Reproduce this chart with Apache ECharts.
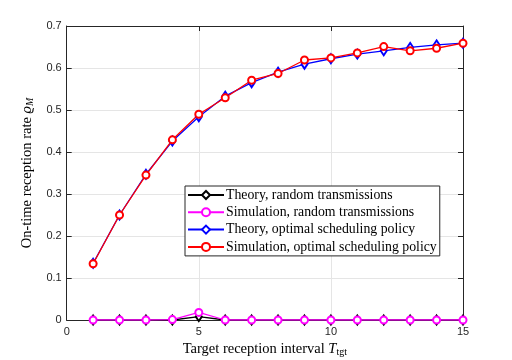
<!DOCTYPE html>
<html>
<head>
<meta charset="utf-8">
<script src="https://cdn.jsdelivr.net/npm/echarts@6/dist/echarts.min.js"></script>
<style>
  html, body { margin: 0; padding: 0; background: #fff; }
  #chart { width: 512px; height: 360px; }
</style>
</head>
<body>
<div id="chart"></div>
<script>
// target reception interval
var intervals = [1, 2, 3, 4, 5, 6, 7, 8, 9, 10, 11, 12, 13, 14, 15]
var theoryRandom = [0, 0, 0, 0, 0.008, 0, 0, 0, 0, 0, 0, 0, 0, 0, 0]
var simRandom = [0, 0, 0, 0.001, 0.018, 0, 0, 0, 0, 0, 0, 0, 0, 0, 0]
var theoryOptimal = [0.135, 0.25, 0.347, 0.426, 0.484, 0.533, 0.565, 0.59, 0.609, 0.622, 0.633, 0.641, 0.649, 0.655, 0.659]
var simOptimal = [0.134, 0.25, 0.345, 0.429, 0.49, 0.529, 0.571, 0.587, 0.619, 0.624, 0.636, 0.651, 0.641, 0.647, 0.659]
var seriesNames = [
  'Theory, random transmissions',
  'Simulation, random transmissions',
  'Theory, optimal scheduling policy',
  'Simulation, optimal scheduling policy'
]

function pairs (ys) {
  return intervals.map(function (x, i) { return [x, ys[i]] })
}

var axisColor = '#262626'
var serif = '"Liberation Serif", "DejaVu Serif", serif'
var sans = '"Liberation Sans", Arial, sans-serif'

function makeSeries (name, ys, color, symbol, size) {
  return {
    name: name,
    type: 'line',
    data: pairs(ys),
    symbol: symbol,
    symbolSize: size,
    showAllSymbol: true,
    lineStyle: { color: color, width: 1.3 },
    itemStyle: { color: color, borderColor: color, borderWidth: 1 },
    emphasis: { disabled: true },
    animation: false
  }
}

function boxAxis (extra) {
  return Object.assign({
    axisLine: { show: true, onZero: false, lineStyle: { color: axisColor, width: 1 } },
    axisTick: { show: true, inside: true, length: 5, lineStyle: { color: axisColor } },
    axisLabel: { show: false },
    splitLine: { show: false }
  }, extra)
}

var chart = echarts.init(document.getElementById('chart'))
var option = {
  backgroundColor: '#fff',
  animation: false,
  grid: { left: 66.7, right: 49, top: 26, bottom: 40, outerBoundsMode: 'none' },
  legend: {
    orient: 'vertical',
    left: 185,
    top: 186,
    data: seriesNames,
    backgroundColor: '#fff',
    borderColor: axisColor,
    borderWidth: 1,
    padding: [2, 3, 2, 2],
    itemWidth: 36,
    itemHeight: 10,
    itemGap: 3.3,
    textStyle: { fontFamily: serif, fontSize: 13.8, color: '#000', padding: [0, 0, 0, -3] }
  },
  xAxis: [
    {
      type: 'value', min: 0, max: 15, interval: 5,
      name: 'Target reception interval {it|T}{sub|tgt}',
      nameLocation: 'middle', nameGap: 18,
      nameTextStyle: {
        fontFamily: serif, fontSize: 14.5, color: '#000',
        rich: {
          it: { fontFamily: serif, fontSize: 14.5, fontStyle: 'italic', color: '#000' },
          sub: { fontFamily: serif, fontSize: 10, color: '#000', verticalAlign: 'bottom', padding: [6, 0, 0, 0] }
        }
      },
      axisLine: { show: true, onZero: false, lineStyle: { color: axisColor, width: 1 } },
      axisTick: { show: true, inside: true, length: 5, lineStyle: { color: axisColor } },
      axisLabel: { fontFamily: sans, fontSize: 11, color: '#262626', margin: 6 },
      splitLine: { show: true, lineStyle: { color: '#e5e5e5', width: 1 } }
    },
    boxAxis({ type: 'value', min: 0, max: 15, interval: 5, position: 'top' })
  ],
  yAxis: [
    {
      type: 'value', min: 0, max: 0.7, interval: 0.1,
      name: 'On-time reception rate {it|ϱ}{sub|M}',
      nameLocation: 'middle', nameGap: 28,
      nameTextStyle: {
        fontFamily: serif, fontSize: 14.5, color: '#000',
        rich: {
          it: { fontFamily: serif, fontSize: 14.5, fontStyle: 'italic', color: '#000' },
          sub: { fontFamily: serif, fontSize: 10, fontStyle: 'italic', color: '#000', verticalAlign: 'bottom', padding: [6, 0, 0, 0] }
        }
      },
      axisLine: { show: true, onZero: false, lineStyle: { color: axisColor, width: 1 } },
      axisTick: { show: true, inside: true, length: 5, lineStyle: { color: axisColor } },
      axisLabel: {
        fontFamily: sans, fontSize: 11, color: '#262626', margin: 5,
        formatter: function (v) { return v === 0 ? '0' : v.toFixed(1) }
      },
      splitLine: { show: true, lineStyle: { color: '#e5e5e5', width: 1 } }
    },
    boxAxis({ type: 'value', min: 0, max: 0.7, interval: 0.1, position: 'right' })
  ],
  series: [
    makeSeries(seriesNames[0], theoryRandom, '#000000', 'emptyDiamond', [6, 9]),
    makeSeries(seriesNames[1], simRandom, '#ff00ff', 'emptyCircle', 7),
    makeSeries(seriesNames[2], theoryOptimal, '#0000ff', 'emptyDiamond', [6, 9]),
    makeSeries(seriesNames[3], simOptimal, '#ff0000', 'emptyCircle', 7)
  ]
}
chart.setOption(option)
</script>
</body>
</html>
